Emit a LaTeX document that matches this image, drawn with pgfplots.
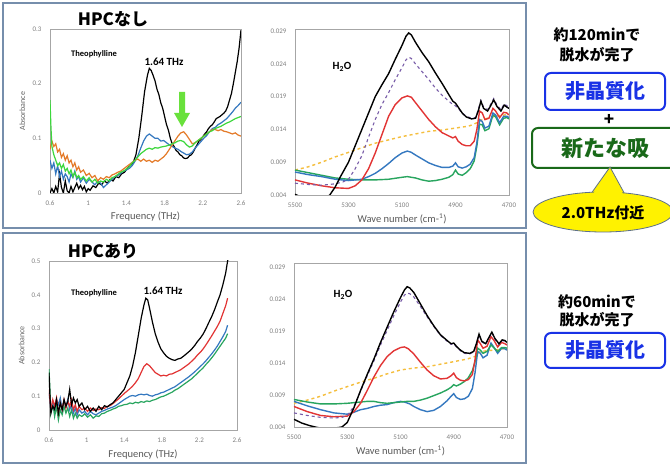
\documentclass[border=0pt]{standalone}
\usepackage{pgfplots}
\pgfplotsset{compat=1.18}
\usepackage{fontspec}
\setmainfont{Carlito}
\newfontfamily\jp{Noto Sans CJK JP}
\definecolor{framec}{RGB}{118,142,172}
\definecolor{cblue}{RGB}{52,120,192}
\definecolor{cgreenb}{RGB}{60,215,60}
\definecolor{corange}{RGB}{228,122,40}
\definecolor{cred}{RGB}{226,52,52}
\definecolor{cgreen}{RGB}{40,165,95}
\definecolor{cpurple}{RGB}{120,92,168}
\definecolor{cgold}{RGB}{245,190,60}
\definecolor{jblue}{RGB}{25,50,230}
\definecolor{jgreen}{RGB}{25,105,25}
\definecolor{arrowg}{RGB}{105,225,60}
\pgfplotsset{
  base/.style={scale only axis, anchor=south west,
    axis line style={draw=black!35, line width=0.8pt},
    major tick length=0pt, scaled ticks=false,
    tick label style={font=\fontsize{7}{8}\selectfont, text=black!50},
    /pgf/number format/assume math mode=true,
    /pgf/number format/1000 sep={},
    yticklabel style={xshift=-5pt}, xticklabel style={yshift=-4pt},
    every axis x label/.style={at={(axis description cs:0.5,-0.145)}, anchor=center, font=\fontsize{10.5}{12}\selectfont, text=black!65},
  },
  thz/.style={base, xmin=0.6, xmax=2.6, xtick={0.6,1,1.4,1.8,2.2,2.6}, ymin=0,
    xlabel={Frequency (THz)}, ylabel={Absorbance},
    every axis y label/.style={at={(axis description cs:-0.145,0.5)}, rotate=90, anchor=center, font=\fontsize{8}{9}\selectfont, text=black!60},
    every axis plot/.append style={line width=1.2pt}},
  ir/.style={base, x dir=reverse, xmin=4700, xmax=5500, xtick={4700,4900,5100,5300,5500},
    ymin=0.004, ytick={0.004,0.009,0.014,0.019,0.024,0.029},
    yticklabel style={/pgf/number format/.cd, fixed, fixed zerofill, precision=3},
    xlabel={Wave number (cm-\textsuperscript{1})},
    every axis plot/.append style={line width=1.4pt}},
}
\begin{document}
\begin{tikzpicture}
\useasboundingbox (0pt,0pt) rectangle (670pt,466pt);
\fill[white] (0pt,0pt) rectangle (670pt,466pt);
% panel frames
\draw[framec, line width=1.6pt] (3pt,238pt) rectangle (526pt,463pt);
\draw[framec, line width=1.6pt] (3pt,3pt) rectangle (526pt,233pt);

% ---------------- Top-left ----------------
\begin{axis}[thz, at={(50pt,273pt)}, width=191pt, height=164pt, ymax=0.3, ytick={0,0.1,0.2,0.3}]
\addplot[black] coordinates {(0.60,0.000)(0.62,0.008)(0.64,0.000)(0.66,0.012)(0.68,0.002)(0.70,0.035)(0.72,0.010)(0.74,0.000)(0.76,0.022)(0.78,0.004)(0.80,0.000)(0.82,0.012)(0.84,0.002)(0.86,0.010)(0.88,0.018)(0.90,0.008)(0.92,0.014)(0.94,0.006)(0.96,0.012)(0.98,0.002)(1.00,0.008)(1.02,0.005)(1.05,0.013)(1.08,0.010)(1.11,0.018)(1.14,0.015)(1.17,0.022)(1.20,0.018)(1.23,0.025)(1.26,0.022)(1.29,0.030)(1.32,0.028)(1.35,0.035)(1.38,0.038)(1.41,0.045)(1.44,0.050)(1.47,0.055)(1.50,0.070)(1.53,0.100)(1.56,0.140)(1.59,0.185)(1.62,0.215)(1.64,0.228)(1.66,0.224)(1.68,0.215)(1.70,0.205)(1.72,0.190)(1.74,0.180)(1.76,0.165)(1.78,0.155)(1.80,0.140)(1.82,0.125)(1.84,0.115)(1.86,0.100)(1.88,0.090)(1.90,0.085)(1.92,0.078)(1.94,0.075)(1.96,0.070)(1.98,0.068)(2.00,0.064)(2.02,0.063)(2.04,0.064)(2.06,0.068)(2.08,0.070)(2.10,0.075)(2.12,0.082)(2.14,0.088)(2.16,0.095)(2.18,0.098)(2.20,0.103)(2.22,0.108)(2.24,0.112)(2.26,0.118)(2.28,0.122)(2.30,0.125)(2.32,0.130)(2.34,0.136)(2.36,0.138)(2.38,0.140)(2.40,0.143)(2.42,0.146)(2.44,0.150)(2.46,0.158)(2.48,0.170)(2.50,0.182)(2.52,0.200)(2.54,0.220)(2.56,0.240)(2.58,0.265)(2.60,0.298)};
\addplot[cblue] coordinates {(0.60,0.060)(0.62,0.045)(0.64,0.055)(0.66,0.035)(0.68,0.050)(0.70,0.030)(0.72,0.040)(0.74,0.025)(0.76,0.035)(0.78,0.030)(0.80,0.020)(0.82,0.035)(0.84,0.028)(0.86,0.040)(0.88,0.025)(0.90,0.030)(0.92,0.020)(0.95,0.028)(0.98,0.018)(1.01,0.025)(1.04,0.020)(1.07,0.015)(1.10,0.022)(1.13,0.018)(1.16,0.010)(1.19,0.015)(1.22,0.020)(1.25,0.025)(1.28,0.030)(1.31,0.032)(1.34,0.036)(1.37,0.040)(1.40,0.042)(1.43,0.045)(1.46,0.050)(1.49,0.058)(1.52,0.068)(1.55,0.082)(1.58,0.095)(1.61,0.104)(1.64,0.108)(1.67,0.104)(1.70,0.100)(1.73,0.100)(1.76,0.095)(1.79,0.096)(1.82,0.092)(1.85,0.088)(1.88,0.085)(1.91,0.082)(1.94,0.080)(1.97,0.076)(2.00,0.073)(2.03,0.070)(2.06,0.071)(2.09,0.075)(2.12,0.082)(2.15,0.088)(2.18,0.094)(2.21,0.100)(2.24,0.105)(2.27,0.112)(2.30,0.118)(2.33,0.120)(2.36,0.125)(2.39,0.128)(2.42,0.132)(2.45,0.136)(2.48,0.142)(2.51,0.148)(2.54,0.155)(2.57,0.160)(2.60,0.166)};
\addplot[corange] coordinates {(0.60,0.080)(0.62,0.095)(0.64,0.085)(0.66,0.090)(0.68,0.075)(0.70,0.080)(0.72,0.065)(0.74,0.072)(0.76,0.060)(0.78,0.068)(0.80,0.055)(0.82,0.060)(0.84,0.048)(0.86,0.055)(0.88,0.042)(0.90,0.048)(0.92,0.038)(0.95,0.042)(0.98,0.032)(1.01,0.036)(1.04,0.028)(1.07,0.032)(1.10,0.022)(1.13,0.028)(1.16,0.025)(1.19,0.030)(1.22,0.028)(1.25,0.033)(1.28,0.035)(1.31,0.038)(1.34,0.040)(1.37,0.044)(1.40,0.048)(1.43,0.052)(1.46,0.056)(1.49,0.060)(1.52,0.062)(1.55,0.058)(1.58,0.062)(1.61,0.058)(1.64,0.060)(1.67,0.056)(1.70,0.060)(1.73,0.058)(1.76,0.062)(1.79,0.066)(1.82,0.072)(1.85,0.080)(1.88,0.088)(1.91,0.096)(1.94,0.104)(1.97,0.110)(2.00,0.112)(2.03,0.106)(2.06,0.098)(2.09,0.090)(2.12,0.092)(2.15,0.096)(2.18,0.100)(2.21,0.104)(2.24,0.108)(2.27,0.112)(2.30,0.116)(2.33,0.116)(2.36,0.114)(2.39,0.116)(2.42,0.113)(2.45,0.112)(2.48,0.110)(2.51,0.108)(2.54,0.110)(2.57,0.106)(2.60,0.104)};
\addplot[cgreenb] coordinates {(0.60,0.170)(0.61,0.120)(0.62,0.085)(0.64,0.070)(0.66,0.060)(0.68,0.050)(0.70,0.055)(0.72,0.045)(0.74,0.052)(0.76,0.040)(0.78,0.045)(0.80,0.035)(0.82,0.042)(0.84,0.030)(0.86,0.038)(0.88,0.028)(0.90,0.032)(0.92,0.025)(0.95,0.030)(0.98,0.022)(1.01,0.028)(1.04,0.020)(1.07,0.025)(1.10,0.018)(1.13,0.022)(1.16,0.020)(1.19,0.025)(1.22,0.022)(1.25,0.028)(1.28,0.030)(1.31,0.034)(1.34,0.038)(1.37,0.040)(1.40,0.044)(1.43,0.048)(1.46,0.055)(1.49,0.060)(1.52,0.066)(1.55,0.072)(1.58,0.076)(1.61,0.080)(1.64,0.082)(1.67,0.080)(1.70,0.083)(1.73,0.082)(1.76,0.084)(1.79,0.085)(1.82,0.086)(1.85,0.088)(1.88,0.090)(1.91,0.092)(1.94,0.095)(1.97,0.096)(2.00,0.094)(2.03,0.088)(2.06,0.084)(2.09,0.086)(2.12,0.092)(2.15,0.096)(2.18,0.100)(2.21,0.104)(2.24,0.108)(2.27,0.112)(2.30,0.114)(2.33,0.118)(2.36,0.120)(2.39,0.122)(2.42,0.125)(2.45,0.128)(2.48,0.130)(2.51,0.133)(2.54,0.136)(2.57,0.138)(2.60,0.140)};
\end{axis}

% ---------------- Top-right ----------------
\begin{axis}[ir, at={(295pt,271pt)}, width=214pt, height=166pt, ymax=0.0293]
\addplot[cgold, dashed] coordinates {(5500,0.0078)(5450,0.0083)(5400,0.0090)(5350,0.0098)(5300,0.0105)(5250,0.0112)(5200,0.0119)(5150,0.0124)(5100,0.0129)(5050,0.0133)(5000,0.0137)(4950,0.0139)(4900,0.0142)(4850,0.0145)(4820,0.0150)(4800,0.0155)(4750,0.0160)(4700,0.0163)};
\addplot[cgreen] coordinates {(5500,0.0078)(5450,0.0074)(5400,0.0070)(5350,0.0066)(5300,0.0064)(5250,0.0063)(5200,0.0063)(5150,0.0064)(5100,0.0067)(5080,0.0068)(5050,0.0066)(5025,0.0063)(5000,0.0061)(4975,0.0062)(4950,0.0064)(4925,0.0067)(4910,0.0071)(4900,0.0078)(4890,0.0072)(4875,0.0070)(4860,0.0074)(4845,0.0080)(4830,0.0092)(4820,0.0115)(4810,0.0148)(4800,0.0147)(4790,0.0138)(4775,0.0141)(4760,0.0162)(4750,0.0159)(4735,0.0147)(4720,0.0157)(4708,0.0158)(4700,0.0156)};
\addplot[cblue] coordinates {(5500,0.0075)(5450,0.0071)(5400,0.0068)(5350,0.0064)(5300,0.0062)(5250,0.0064)(5225,0.0068)(5200,0.0073)(5175,0.0080)(5150,0.0088)(5125,0.0097)(5100,0.0104)(5080,0.0107)(5065,0.0105)(5050,0.0101)(5025,0.0095)(5000,0.0089)(4975,0.0085)(4950,0.0082)(4925,0.0082)(4910,0.0084)(4900,0.0089)(4890,0.0083)(4875,0.0081)(4860,0.0083)(4845,0.0087)(4830,0.0097)(4820,0.0120)(4810,0.0155)(4800,0.0152)(4790,0.0142)(4775,0.0145)(4760,0.0165)(4750,0.0162)(4735,0.0150)(4720,0.0160)(4708,0.0160)(4700,0.0158)};
\addplot[cred] coordinates {(5500,0.0063)(5450,0.0058)(5400,0.0054)(5350,0.0051)(5300,0.0050)(5275,0.0054)(5250,0.0063)(5225,0.0080)(5200,0.0104)(5175,0.0132)(5150,0.0160)(5125,0.0178)(5100,0.0188)(5080,0.0191)(5065,0.0189)(5050,0.0181)(5025,0.0168)(5000,0.0155)(4975,0.0144)(4950,0.0135)(4925,0.0130)(4910,0.0127)(4900,0.0129)(4890,0.0122)(4875,0.0117)(4860,0.0115)(4845,0.0115)(4830,0.0122)(4820,0.0140)(4810,0.0168)(4800,0.0165)(4790,0.0155)(4775,0.0157)(4760,0.0172)(4750,0.0168)(4735,0.0158)(4720,0.0166)(4708,0.0165)(4700,0.0162)};
\addplot[cpurple, dashed, line width=1.1pt] coordinates {(5500,0.0058)(5450,0.0056)(5400,0.0055)(5350,0.0057)(5320,0.0060)(5300,0.0064)(5275,0.0080)(5250,0.0100)(5225,0.0128)(5200,0.0155)(5175,0.0178)(5150,0.0196)(5125,0.0216)(5100,0.0234)(5085,0.0246)(5075,0.0250)(5065,0.0248)(5050,0.0240)(5025,0.0228)(5000,0.0216)(4975,0.0203)(4950,0.0192)(4925,0.0183)(4910,0.0178)(4900,0.0176)(4890,0.0172)(4875,0.0165)(4860,0.0160)(4840,0.0157)(4825,0.0158)(4815,0.0170)(4805,0.0184)(4795,0.0174)(4780,0.0170)(4770,0.0177)(4757,0.0187)(4745,0.0177)(4730,0.0170)(4718,0.0179)(4708,0.0176)(4700,0.0174)};
\addplot[black] coordinates {(5500,0.0041)(5470,0.0036)(5440,0.0033)(5410,0.0032)(5390,0.0034)(5370,0.0040)(5350,0.0052)(5330,0.0068)(5300,0.0090)(5275,0.0115)(5250,0.0140)(5225,0.0165)(5200,0.0190)(5175,0.0208)(5150,0.0225)(5125,0.0247)(5100,0.0268)(5085,0.0282)(5075,0.0287)(5065,0.0284)(5050,0.0273)(5025,0.0257)(5000,0.0243)(4975,0.0226)(4950,0.0210)(4925,0.0193)(4910,0.0183)(4900,0.0180)(4890,0.0174)(4875,0.0165)(4860,0.0159)(4840,0.0156)(4825,0.0157)(4815,0.0168)(4805,0.0183)(4795,0.0172)(4780,0.0168)(4770,0.0175)(4757,0.0185)(4745,0.0175)(4730,0.0168)(4718,0.0177)(4708,0.0174)(4700,0.0172)};
\end{axis}

% ---------------- Bottom-left ----------------
\begin{axis}[thz, at={(49pt,36pt)}, width=188pt, height=169pt, ymax=0.5, ytick={0,0.1,0.2,0.3,0.4,0.5}]
\addplot[cgreen] coordinates {(0.60,0.180)(0.61,0.120)(0.62,0.050)(0.64,0.080)(0.66,0.040)(0.68,0.070)(0.70,0.030)(0.72,0.060)(0.74,0.045)(0.76,0.070)(0.78,0.050)(0.80,0.065)(0.82,0.040)(0.84,0.060)(0.86,0.035)(0.88,0.050)(0.90,0.035)(0.92,0.045)(0.95,0.040)(0.98,0.048)(1.01,0.038)(1.04,0.045)(1.07,0.035)(1.10,0.042)(1.13,0.040)(1.16,0.048)(1.19,0.050)(1.22,0.055)(1.25,0.058)(1.28,0.062)(1.31,0.065)(1.34,0.070)(1.37,0.072)(1.40,0.075)(1.43,0.076)(1.46,0.080)(1.49,0.078)(1.52,0.082)(1.55,0.080)(1.58,0.084)(1.61,0.082)(1.64,0.086)(1.67,0.084)(1.70,0.088)(1.73,0.090)(1.76,0.094)(1.79,0.098)(1.82,0.100)(1.85,0.104)(1.88,0.108)(1.91,0.112)(1.94,0.118)(1.97,0.122)(2.00,0.128)(2.03,0.134)(2.06,0.140)(2.09,0.146)(2.12,0.152)(2.15,0.160)(2.18,0.168)(2.21,0.176)(2.24,0.184)(2.27,0.194)(2.30,0.203)(2.33,0.213)(2.36,0.224)(2.39,0.236)(2.42,0.248)(2.45,0.260)(2.48,0.272)(2.50,0.285)};
\addplot[cblue] coordinates {(0.60,0.110)(0.62,0.060)(0.64,0.085)(0.66,0.065)(0.68,0.090)(0.70,0.075)(0.72,0.095)(0.74,0.060)(0.76,0.085)(0.78,0.070)(0.80,0.090)(0.82,0.060)(0.84,0.075)(0.86,0.050)(0.88,0.065)(0.90,0.045)(0.92,0.060)(0.95,0.050)(0.98,0.055)(1.01,0.045)(1.04,0.055)(1.07,0.048)(1.10,0.045)(1.13,0.050)(1.16,0.055)(1.19,0.058)(1.22,0.062)(1.25,0.065)(1.28,0.068)(1.31,0.072)(1.34,0.078)(1.37,0.084)(1.40,0.090)(1.43,0.095)(1.46,0.100)(1.49,0.102)(1.52,0.100)(1.55,0.104)(1.58,0.106)(1.61,0.104)(1.64,0.106)(1.67,0.102)(1.70,0.100)(1.73,0.104)(1.76,0.106)(1.79,0.110)(1.82,0.112)(1.85,0.116)(1.88,0.120)(1.91,0.124)(1.94,0.128)(1.97,0.134)(2.00,0.140)(2.03,0.146)(2.06,0.152)(2.09,0.158)(2.12,0.165)(2.15,0.172)(2.18,0.180)(2.21,0.188)(2.24,0.196)(2.27,0.205)(2.30,0.215)(2.33,0.225)(2.36,0.236)(2.39,0.248)(2.42,0.262)(2.45,0.276)(2.48,0.292)(2.50,0.310)};
\addplot[cred] coordinates {(0.60,0.120)(0.62,0.060)(0.64,0.090)(0.66,0.070)(0.68,0.095)(0.70,0.050)(0.72,0.080)(0.74,0.060)(0.76,0.090)(0.78,0.065)(0.80,0.085)(0.82,0.070)(0.84,0.090)(0.86,0.060)(0.88,0.075)(0.90,0.055)(0.92,0.070)(0.95,0.060)(0.98,0.065)(1.01,0.055)(1.04,0.065)(1.07,0.058)(1.10,0.062)(1.13,0.060)(1.16,0.066)(1.19,0.064)(1.22,0.070)(1.25,0.072)(1.28,0.078)(1.31,0.085)(1.34,0.092)(1.37,0.100)(1.40,0.108)(1.43,0.115)(1.46,0.122)(1.49,0.130)(1.52,0.140)(1.55,0.152)(1.58,0.170)(1.61,0.188)(1.64,0.196)(1.67,0.190)(1.70,0.180)(1.73,0.170)(1.76,0.165)(1.79,0.160)(1.82,0.162)(1.85,0.160)(1.88,0.165)(1.91,0.166)(1.94,0.170)(1.97,0.174)(2.00,0.178)(2.03,0.184)(2.06,0.190)(2.09,0.196)(2.12,0.204)(2.15,0.212)(2.18,0.222)(2.21,0.230)(2.24,0.240)(2.27,0.252)(2.30,0.265)(2.33,0.278)(2.36,0.292)(2.39,0.306)(2.42,0.322)(2.45,0.345)(2.48,0.368)(2.50,0.390)};
\addplot[black] coordinates {(0.60,0.170)(0.61,0.100)(0.62,0.050)(0.64,0.070)(0.66,0.060)(0.68,0.090)(0.70,0.050)(0.72,0.080)(0.74,0.060)(0.76,0.090)(0.78,0.070)(0.80,0.085)(0.82,0.120)(0.84,0.075)(0.86,0.095)(0.88,0.080)(0.90,0.090)(0.92,0.070)(0.95,0.080)(0.98,0.060)(1.01,0.070)(1.04,0.055)(1.07,0.065)(1.10,0.055)(1.13,0.070)(1.16,0.060)(1.19,0.072)(1.22,0.068)(1.25,0.075)(1.28,0.080)(1.31,0.090)(1.34,0.100)(1.37,0.110)(1.40,0.120)(1.43,0.140)(1.46,0.160)(1.49,0.190)(1.52,0.230)(1.55,0.280)(1.58,0.330)(1.61,0.370)(1.63,0.390)(1.65,0.385)(1.67,0.360)(1.70,0.320)(1.73,0.285)(1.76,0.260)(1.79,0.240)(1.82,0.228)(1.85,0.218)(1.88,0.212)(1.91,0.208)(1.94,0.206)(1.97,0.210)(2.00,0.212)(2.03,0.218)(2.06,0.225)(2.09,0.232)(2.12,0.240)(2.15,0.250)(2.18,0.262)(2.21,0.272)(2.24,0.284)(2.27,0.300)(2.30,0.318)(2.33,0.335)(2.36,0.355)(2.39,0.378)(2.42,0.400)(2.45,0.430)(2.48,0.465)(2.50,0.500)(2.52,0.530)};
\end{axis}

% ---------------- Bottom-right ----------------
\begin{axis}[ir, at={(294pt,39pt)}, width=213pt, height=164pt, ymax=0.0296]
\addplot[cgold, dashed] coordinates {(5500,0.0077)(5450,0.0082)(5400,0.0088)(5350,0.0096)(5300,0.0103)(5250,0.0110)(5200,0.0116)(5150,0.0123)(5100,0.0129)(5050,0.0132)(5000,0.0134)(4950,0.0138)(4900,0.0142)(4850,0.0146)(4820,0.0150)(4800,0.0158)(4750,0.0160)(4700,0.0163)};
\addplot[cblue] coordinates {(5500,0.0080)(5450,0.0073)(5400,0.0067)(5350,0.0062)(5300,0.0060)(5275,0.0063)(5250,0.0067)(5225,0.0069)(5200,0.0072)(5175,0.0074)(5150,0.0075)(5125,0.0078)(5100,0.0080)(5085,0.0079)(5065,0.0076)(5050,0.0072)(5025,0.0067)(5000,0.0064)(4975,0.0066)(4950,0.0072)(4925,0.0081)(4910,0.0088)(4900,0.0092)(4890,0.0086)(4875,0.0083)(4860,0.0084)(4845,0.0088)(4830,0.0100)(4820,0.0125)(4810,0.0158)(4800,0.0155)(4790,0.0148)(4775,0.0152)(4760,0.0171)(4750,0.0165)(4735,0.0155)(4720,0.0163)(4708,0.0162)(4700,0.0160)};
\addplot[cgreen] coordinates {(5500,0.0083)(5450,0.0079)(5400,0.0076)(5350,0.0076)(5300,0.0077)(5250,0.0079)(5225,0.0080)(5200,0.0080)(5175,0.0078)(5150,0.0077)(5125,0.0078)(5100,0.0079)(5075,0.0080)(5050,0.0080)(5025,0.0082)(5000,0.0085)(4975,0.0089)(4950,0.0093)(4925,0.0098)(4910,0.0102)(4900,0.0106)(4890,0.0104)(4875,0.0107)(4860,0.0111)(4845,0.0117)(4830,0.0128)(4820,0.0142)(4810,0.0163)(4800,0.0160)(4790,0.0155)(4775,0.0158)(4760,0.0168)(4750,0.0164)(4735,0.0158)(4720,0.0164)(4708,0.0164)(4700,0.0163)};
\addplot[cred] coordinates {(5500,0.0072)(5450,0.0064)(5400,0.0058)(5350,0.0056)(5300,0.0057)(5275,0.0064)(5250,0.0077)(5225,0.0097)(5200,0.0118)(5175,0.0136)(5150,0.0150)(5125,0.0159)(5100,0.0164)(5085,0.0165)(5070,0.0162)(5050,0.0154)(5025,0.0141)(5000,0.0129)(4975,0.0120)(4950,0.0115)(4925,0.0116)(4910,0.0120)(4900,0.0124)(4890,0.0117)(4875,0.0113)(4860,0.0112)(4845,0.0114)(4830,0.0122)(4820,0.0145)(4810,0.0176)(4800,0.0170)(4790,0.0163)(4775,0.0166)(4760,0.0181)(4750,0.0176)(4735,0.0165)(4720,0.0172)(4708,0.0170)(4700,0.0168)};
\addplot[cpurple, dashed, line width=1.1pt] coordinates {(5500,0.0062)(5450,0.0058)(5400,0.0055)(5350,0.0054)(5320,0.0055)(5300,0.0058)(5275,0.0072)(5250,0.0096)(5225,0.0120)(5200,0.0143)(5175,0.0168)(5150,0.0191)(5125,0.0214)(5100,0.0235)(5085,0.0246)(5075,0.0249)(5065,0.0248)(5050,0.0243)(5025,0.0228)(5000,0.0212)(4975,0.0197)(4950,0.0183)(4925,0.0174)(4910,0.0169)(4900,0.0170)(4890,0.0165)(4875,0.0159)(4860,0.0155)(4840,0.0154)(4825,0.0157)(4815,0.0169)(4805,0.0184)(4795,0.0173)(4780,0.0169)(4770,0.0177)(4757,0.0187)(4745,0.0177)(4730,0.0169)(4718,0.0175)(4708,0.0174)(4700,0.0171)};
\addplot[black] coordinates {(5500,0.0052)(5470,0.0046)(5440,0.0042)(5410,0.0039)(5380,0.0038)(5350,0.0038)(5320,0.0040)(5300,0.0047)(5275,0.0070)(5250,0.0097)(5225,0.0122)(5200,0.0146)(5175,0.0172)(5150,0.0196)(5125,0.0220)(5100,0.0242)(5085,0.0254)(5075,0.0259)(5065,0.0257)(5050,0.0250)(5025,0.0232)(5000,0.0214)(4975,0.0198)(4950,0.0184)(4925,0.0175)(4910,0.0170)(4900,0.0171)(4890,0.0166)(4875,0.0160)(4860,0.0156)(4840,0.0155)(4825,0.0158)(4815,0.0170)(4805,0.0185)(4795,0.0174)(4780,0.0170)(4770,0.0178)(4757,0.0188)(4745,0.0178)(4730,0.0170)(4718,0.0176)(4708,0.0175)(4700,0.0172)};
\end{axis}

% ---------------- annotations ----------------
\node[font=\jp\bfseries\fontsize{17}{20}\selectfont] at (113pt,447pt) {HPCなし};
\node[font=\jp\bfseries\fontsize{17}{20}\selectfont] at (103pt,215pt) {HPCあり};
\node[font=\bfseries\fontsize{8.5}{10}\selectfont] at (94pt,412pt) {Theophylline};
\node[font=\bfseries\fontsize{11}{12}\selectfont] at (164pt,404pt) {1.64 THz};
\node[font=\bfseries\fontsize{8.5}{10}\selectfont] at (94pt,173pt) {Theophylline};
\node[font=\bfseries\fontsize{11}{12}\selectfont] at (163pt,175pt) {1.64 THz};
\node[font=\bfseries\fontsize{11}{12}\selectfont] at (342pt,399pt) {H\textsubscript{2}O};
\node[font=\bfseries\fontsize{11}{12}\selectfont] at (343pt,171pt) {H\textsubscript{2}O};
% green arrow
\fill[arrowg] (179pt,374pt) -- (185pt,374pt) -- (185pt,353pt) -- (190pt,353pt) -- (182pt,339pt) -- (174pt,353pt) -- (179pt,353pt) -- cycle;

% right side
\node[font=\jp\bfseries\fontsize{15}{18}\selectfont] at (597pt,431pt) {約120minで};
\node[font=\jp\bfseries\fontsize{15}{18}\selectfont] at (597pt,411pt) {脱水が完了};
\draw[jblue, line width=2pt, rounded corners=6pt, fill=white] (545pt,356pt) rectangle (665pt,393pt);
\node[font=\jp\bfseries\fontsize{20}{24}\selectfont, text=jblue] at (605pt,374.5pt) {非晶質化};
\node[font=\jp\bfseries\fontsize{17}{20}\selectfont] at (609pt,346pt) {+};
\begin{scope}
\clip (0pt,0pt) rectangle (670pt,466pt);
\draw[jgreen, line width=2pt, rounded corners=6pt, fill=white] (532pt,298pt) rectangle (700pt,338pt);
\node[font=\jp\bfseries\fontsize{22}{26}\selectfont, text=jgreen] at (605pt,318pt) {新たな吸};
\draw[framec!80!black, line width=0.8pt, fill=yellow] (588pt,268pt) -- (610pt,299pt) -- (628pt,266pt) -- cycle;
\draw[framec!80!black, line width=0.8pt, fill=yellow] (603pt,254pt) ellipse [x radius=70pt, y radius=20pt];
\fill[yellow] (590pt,268pt) -- (610pt,296pt) -- (626pt,266pt) -- cycle;
\node[font=\jp\bfseries\fontsize{15}{18}\selectfont] at (603pt,253pt) {2.0THz付近};
\end{scope}
\node[font=\jp\bfseries\fontsize{15}{18}\selectfont] at (597pt,164pt) {約60minで};
\node[font=\jp\bfseries\fontsize{15}{18}\selectfont] at (597pt,146pt) {脱水が完了};
\draw[jblue, line width=2pt, rounded corners=6pt, fill=white] (545pt,98pt) rectangle (665pt,133pt);
\node[font=\jp\bfseries\fontsize{20}{24}\selectfont, text=jblue] at (605pt,115.5pt) {非晶質化};
\end{tikzpicture}
\end{document}
